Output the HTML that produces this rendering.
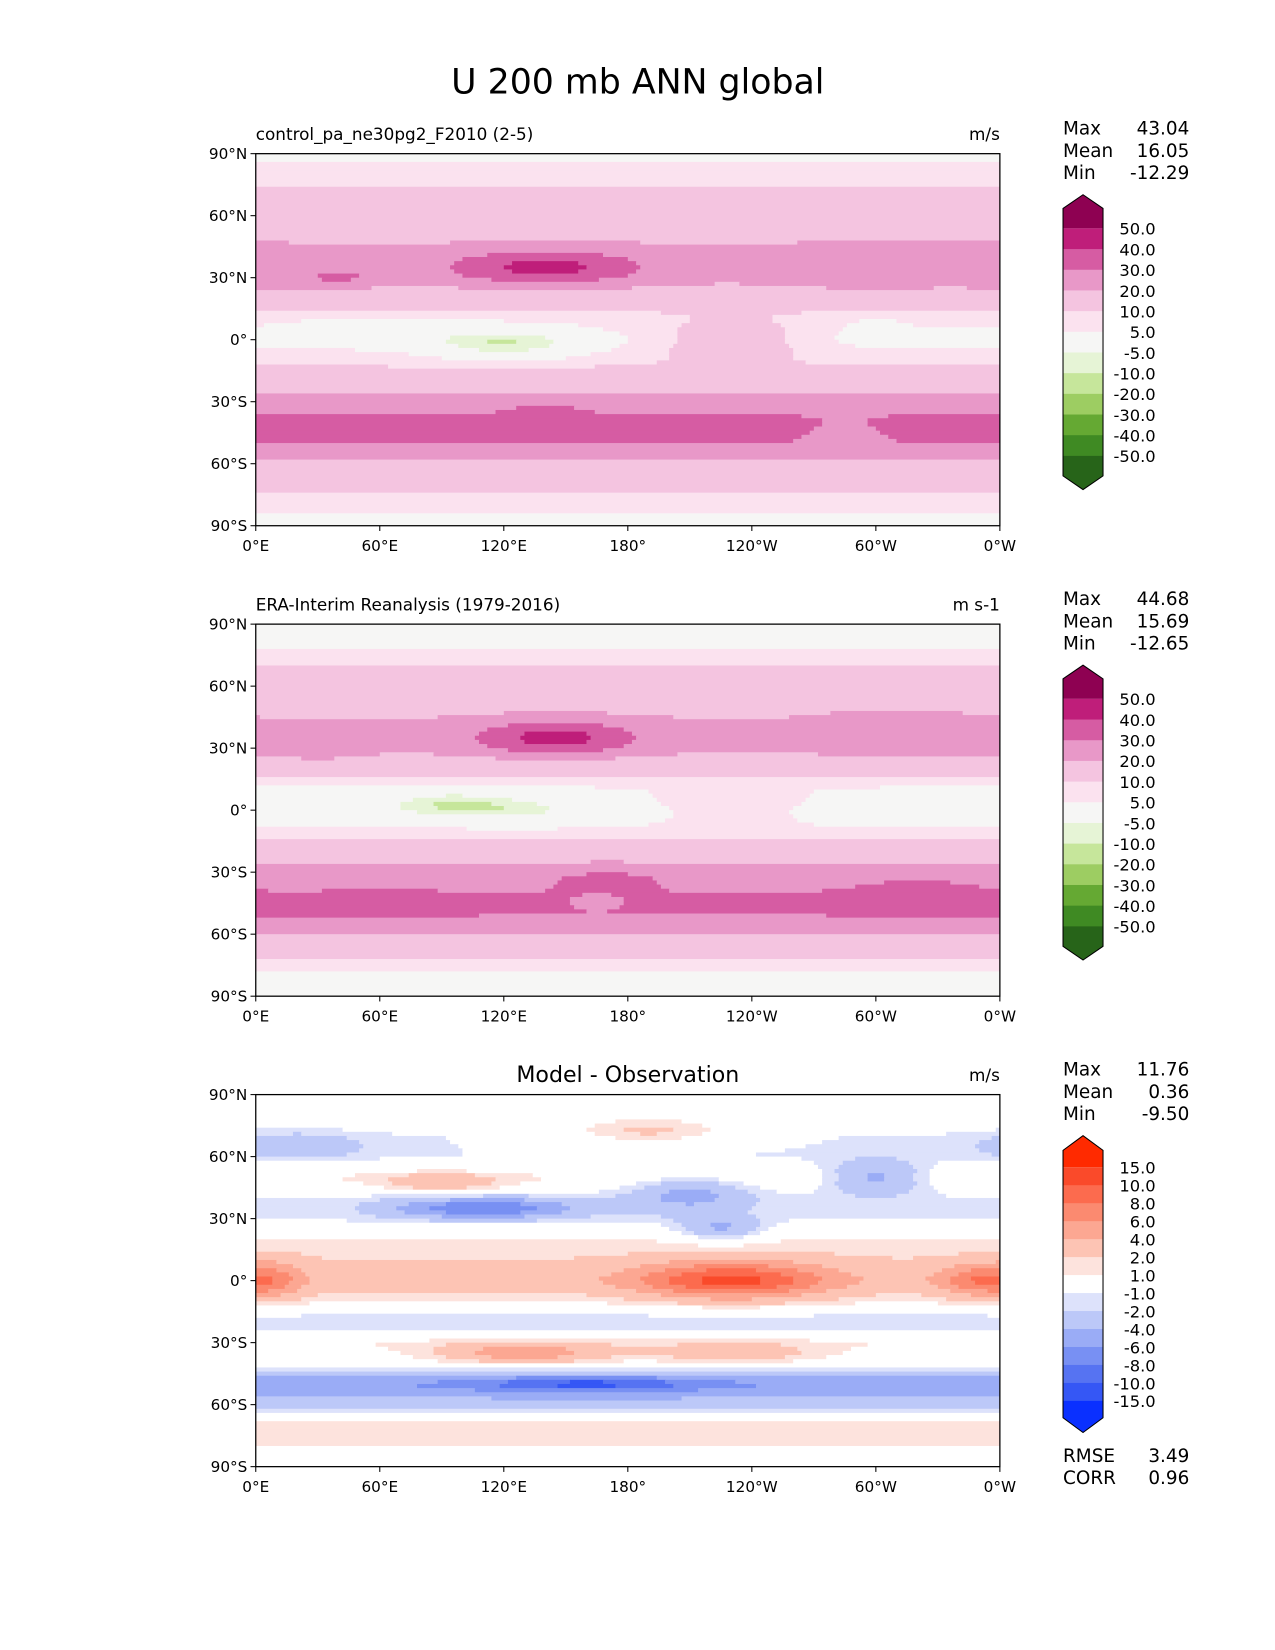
<!DOCTYPE html>
<html><head><meta charset="utf-8"><style>
html,body{margin:0;padding:0;background:#fff;}
svg{display:block;font-family:"DejaVu Sans","Liberation Sans",sans-serif;}
</style></head><body>
<svg id="fig" width="1275" height="1650" viewBox="0 0 1211.4 1567.7" xmlns="http://www.w3.org/2000/svg">
<text x="606" y="89" font-size="33" text-anchor="middle">U 200 mb ANN global</text>
<g id="p1"></g>
<g id="p2"></g>
<g id="p3"></g>
</svg>
<script>
// ---- data ----
const latProfileLats = [90,80,70,60,50,40,30,20,10,0,-10,-20,-30,-40,-50,-60,-70,-80,-90];
const modelZonal = [3,7,12,15,18,22,22,14,7,3,8,15,24,33,30,18,13,6,3];
const obsZonal   = [2,4,10,14,17,22,22,13,4,0,6,15,24,30,31,20,11,4,2];
const diffZonal  = [0,0,-1,-1,1,-1,-1,1,2,3,1,-2,1,0,-6,-3,2,1,0];
// blobs: [lon, lat, amplitude]
const modelBlobs = [[140,35,22],[40,30,10],[120,-2,-14],[60,5,-6],[230,0,10],[300,5,-4],[300,35,8],[0,35,6],[140,-35,7],[285,-45,-6]];
const obsBlobs   = [[145,35,22],[30,30,8],[95,3,-12],[130,0,-6],[230,2,8],[310,38,8],[320,-40,6],[170,-33,7],[165,-45,-8],[60,-45,6]];
const diffBlobs  = [[110,35,-7],[90,47,3],[210,42,-4],[300,50,-5],[225,25,-4],[230,0,8],[350,0,5],[10,0,3],[130,-35,5],[230,-35,3],[160,-50,-5],[20,65,-3],[190,72,3]];
// blob widths (shape, not data)
const modelShape = [[45,8],[20,5],[35,7],[40,6],[40,10],[15,6],[40,10],[20,10],[20,4],[15,8]];
const obsShape   = [[38,8],[20,5],[30,6],[25,6],[40,8],[35,10],[30,8],[30,5],[8,3],[30,5]];
const diffShape  = [[45,5],[30,5],[30,9],[25,8],[20,6],[45,9],[20,8],[15,10],[40,5],[40,5],[50,4],[30,6],[40,6]];
const piygLevels = [-50,-40,-30,-20,-10,-5,5,10,20,30,40,50];
const piygColors = ['#276419','#3f8a23','#65a933','#9dcd62','#c6e69b','#e6f4d6','#f6f6f5','#fbe2ef','#f4c4e0','#e898c8','#d65ca3','#bf1e7a','#8e0152'];
const diffLevels = [-15,-10,-8,-6,-4,-2,-1,1,2,4,6,8,10,15];
const diffColors = ['#0a30ff','#3557f5','#5673f2','#7890f3','#9aacf6','#bcc8f8','#dde2fb','#ffffff','#fde3dd','#fdc4b4','#fca792','#fb8a70','#fc6b4e','#fa4a2a','#ff2a00'];
const xTicks = ['0°E','60°E','120°E','180°','120°W','60°W','0°W'];
const yTicks = ['90°N','60°N','30°N','0°','30°S','60°S','90°S'];

const NS='http://www.w3.org/2000/svg';
const X0=243, W=707, H=353.5;
function mk(tag,attrs,parent){const e=document.createElementNS(NS,tag);for(const k in attrs)e.setAttribute(k,attrs[k]);parent.appendChild(e);return e;}
function interp(lat,prof){for(let i=0;i<latProfileLats.length-1;i++){const a=latProfileLats[i],b=latProfileLats[i+1];if(lat<=a&&lat>=b){const t=(a-lat)/(a-b);return prof[i]*(1-t)+prof[i+1]*t;}}return prof[prof.length-1];}
function field(lon,lat,prof,blobs,shape){let v=interp(lat,prof);blobs.forEach((b,i)=>{let dl=Math.abs(lon-b[0]);if(dl>180)dl=360-dl;const dy=lat-b[1];v+=b[2]*Math.exp(-((dl/shape[i][0])**2+(dy/shape[i][1])**2));});return v;}
function colorOf(v,levels,colors){let k=0;while(k<levels.length&&v>=levels[k])k++;return colors[k];}
const xScale=lon=>X0+lon/360*W;
function drawPanel(g,y0,prof,blobs,shape,levels,colors,title,unit,centerTitle,stats,cb){
  const yScale=lat=>y0+(90-lat)/180*H;
  const step=2;
  const fg=mk('g',{},g);
  
  
  for(let lat=90;lat>-90;lat-=step){
    let start=0,cur=null;
    for(let lon=0;lon<=360;lon+=step){
      const c=lon<360?colorOf(field(lon+step/2,lat-step/2,prof,blobs,shape),levels,colors):null;
      if(c!==cur){ if(cur!==null){mk('rect',{x:xScale(start),y:yScale(lat),width:xScale(lon)-xScale(start)+0.6,height:yScale(lat-step)-yScale(lat)+0.6,fill:cur},fg);} cur=c;start=lon;}
    }
  }
  const fr=mk('rect',{x:X0,y:y0,width:W,height:H,fill:'none',stroke:'#000','stroke-width':1.2},g);
  
  
  xTicks.forEach((t,i)=>{const x=X0+i*W/6;mk('line',{x1:x,x2:x,y1:y0+H,y2:y0+H+5,stroke:'#000'},g);const tx=mk('text',{x:x,y:y0+H+24,'font-size':14.5,'text-anchor':'middle'},g);tx.textContent=t;
    
    });
  yTicks.forEach((t,i)=>{const y=y0+i*H/6;mk('line',{x1:X0-5,x2:X0,y1:y,y2:y,stroke:'#000'},g);const tx=mk('text',{x:X0-8,y:y+5,'font-size':14.5,'text-anchor':'end'},g);tx.textContent=t;
    
    });
  let tt;
  if(centerTitle){tt=mk('text',{x:X0+W/2,y:y0-12,'font-size':21,'text-anchor':'middle'},g);}else{tt=mk('text',{x:X0,y:y0-13,'font-size':16},g);}
  tt.textContent=title;
  
  
  const ut=mk('text',{x:X0+W,y:y0-13,'font-size':16,'text-anchor':'end'},g);ut.textContent=unit;
  
  
  stats.forEach((s,i)=>{const sy=y0-18+i*21+(s.dy||0);const a=mk('text',{x:1010,y:sy,'font-size':17.5},g);a.textContent=s[0];
    
    
    const b=mk('text',{x:1130,y:sy,'font-size':17.5,'text-anchor':'end'},g);b.textContent=s[1];
    
    });
  const cg=mk('g',{},g);
  
  
  const L=levels.length, by=i=>cb.first+i*cb.sp, x1=1010,x2=1048,xm=1029;
  mk('polygon',{points:`${x1},${cb.rtop} ${xm},${cb.tip} ${x2},${cb.rtop} ${x2},${by(0)} ${x1},${by(0)}`,fill:colors[colors.length-1]},cg);
  for(let i=0;i<L-1;i++){mk('rect',{x:x1,y:by(i),width:x2-x1,height:cb.sp+0.5,fill:colors[L-1-i]},cg);}
  const bl=by(L-1), rb=bl+(by(0)-cb.rtop);
  mk('polygon',{points:`${x1},${bl} ${x2},${bl} ${x2},${rb} ${xm},${rb+(cb.rtop-cb.tip)} ${x1},${rb}`,fill:colors[0]},cg);
  mk('polygon',{points:`${x1},${cb.rtop} ${xm},${cb.tip} ${x2},${cb.rtop} ${x2},${rb} ${xm},${rb+cb.rtop-cb.tip} ${x1},${rb}`,fill:'none',stroke:'#000','stroke-width':1},cg);
  for(let i=0;i<L;i++){const t=mk('text',{x:1098,y:by(i)+6,'font-size':15.5,'text-anchor':'end'},cg);t.textContent=levels[L-1-i].toFixed(1);
    
    }
}
drawPanel(document.getElementById('p1'),146,modelZonal,modelBlobs,modelShape,piygLevels,piygColors,'control_pa_ne30pg2_F2010 (2-5)','m/s',false,[['Max','43.04'],['Mean','16.05'],['Min','-12.29']],{tip:185,rtop:198,first:217,sp:19.65});
drawPanel(document.getElementById('p2'),593,obsZonal,obsBlobs,obsShape,piygLevels,piygColors,'ERA-Interim Reanalysis (1979-2016)','m s-1',false,[['Max','44.68'],['Mean','15.69'],['Min','-12.65']],{tip:632,rtop:645,first:664,sp:19.65});
drawPanel(document.getElementById('p3'),1040,diffZonal,diffBlobs,diffShape,diffLevels,diffColors,'Model - Observation','m/s',true,[['Max','11.76'],['Mean','0.36'],['Min','-9.50'],['RMSE','3.49',],['CORR','0.96']].map((s,i)=>{if(i>2){s.dy=304;}return s;}),{tip:1079,rtop:1093,first:1109,sp:17.08});
</script>
</body></html>
